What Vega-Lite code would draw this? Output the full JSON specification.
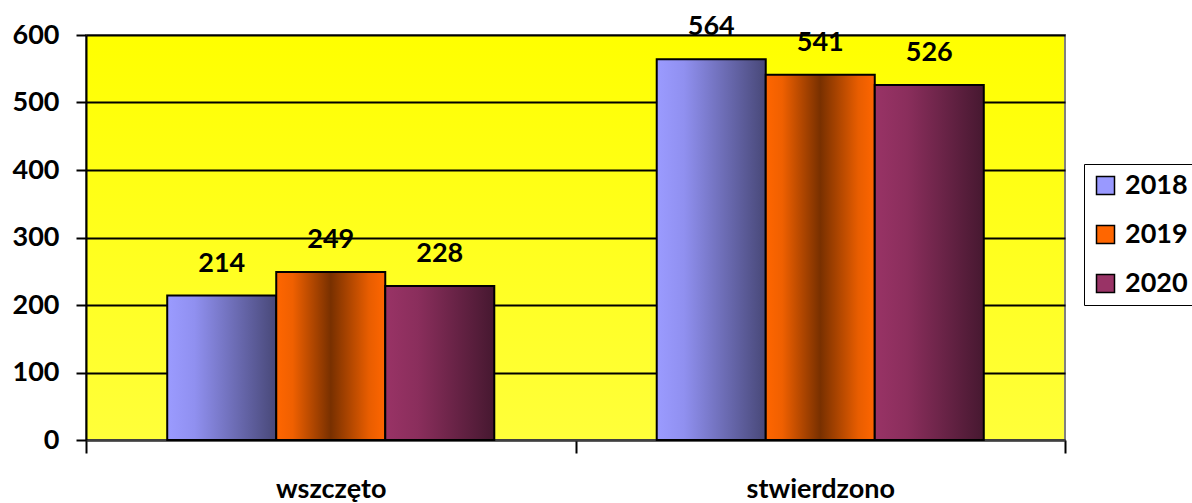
{
  "$schema": "https://vega.github.io/schema/vega-lite/v6.json",
  "width": 979,
  "height": 405,
  "autosize": {"type": "none"},
  "padding": {"left": 86, "top": 35, "right": 127, "bottom": 63},
  "background": "white",
  "config": {
    "font": "Lato",
    "view": {"stroke": "#808080", "strokeWidth": 2, "fill": {"gradient": "linear", "x1": 0, "y1": 0, "x2": 0, "y2": 1, "stops": [{"offset": 0, "color": "#FFFF00"}, {"offset": 1, "color": "#FFFF3A"}]}}
  },
  "data": {
    "values": [
      {"cat": "wszczęto", "year": "2018", "value": 214},
      {"cat": "wszczęto", "year": "2019", "value": 249},
      {"cat": "wszczęto", "year": "2020", "value": 228},
      {"cat": "stwierdzono", "year": "2018", "value": 564},
      {"cat": "stwierdzono", "year": "2019", "value": 541},
      {"cat": "stwierdzono", "year": "2020", "value": 526}
    ]
  },
  "encoding": {
    "x": {
      "field": "cat", "type": "nominal", "sort": ["wszczęto", "stwierdzono"], "title": null,
      "scale": {"paddingInner": 0, "paddingOuter": 0},
      "axis": {"labelAngle": 0, "tickBand": "extent", "tickSize": 13, "tickWidth": 2, "tickColor": "#000000", "domainColor": "#404040", "domainWidth": 2, "labelFont": "Lato", "labelFontSize": 27, "labelFontWeight": "bold", "labelColor": "#000000", "labelBaseline": "alphabetic", "labelPadding": 44, "grid": false}
    },
    "xOffset": {"field": "year", "type": "nominal", "sort": ["2018", "2019", "2020"], "scale": {"paddingOuter": 0.745, "paddingInner": 0}},
    "y": {
      "field": "value", "type": "quantitative", "title": null,
      "scale": {"domain": [0, 600], "nice": false},
      "axis": {"values": [0, 100, 200, 300, 400, 500, 600], "tickSize": 10, "tickWidth": 2, "tickColor": "#000000", "domainColor": "#000000", "domainWidth": 2, "gridColor": "#000000", "gridWidth": 2, "grid": true, "labelFont": "Lato", "labelFontSize": 27, "labelFontWeight": "bold", "labelColor": "#000000", "labelPadding": 17}
    }
  },
  "layer": [
    {
      "mark": {"type": "bar", "stroke": "#000000", "strokeWidth": 2},
      "encoding": {
        "fill": {
          "field": "year", "type": "nominal", "sort": ["2018", "2019", "2020"],
          "scale": {"range": ["#9999FF", "#FF6600", "#993366"]},
          "condition": [
            {"test": "datum.year === '2018'", "value": {"gradient": "linear", "x1": 0, "y1": 0, "x2": 1, "y2": 0, "stops": [{"offset": 0, "color": "#9B9BFF"}, {"offset": 0.25, "color": "#9090F0"}, {"offset": 1, "color": "#484878"}]}},
            {"test": "datum.year === '2019'", "value": {"gradient": "linear", "x1": 0, "y1": 0, "x2": 1, "y2": 0, "stops": [{"offset": 0, "color": "#FF6600"}, {"offset": 0.15, "color": "#F06000"}, {"offset": 0.5, "color": "#783000"}, {"offset": 0.85, "color": "#E85D00"}, {"offset": 1, "color": "#FF6600"}]}},
            {"test": "datum.year === '2020'", "value": {"gradient": "linear", "x1": 0, "y1": 0, "x2": 1, "y2": 0, "stops": [{"offset": 0, "color": "#993366"}, {"offset": 0.3, "color": "#8A2E5C"}, {"offset": 1, "color": "#461830"}]}}
          ],
          "legend": {
            "title": null, "orient": "none", "legendX": 998, "legendY": 129,
            "strokeColor": "#000000", "fillColor": "#FFFFFF",
            "symbolType": "square", "symbolSize": 324, "labelFont": "Lato", "labelFontSize": 27, "labelFontWeight": "bold", "labelColor": "#000000",
            "rowPadding": 21, "padding": 8, "labelOffset": 6,
            "encode": {
              "legend": {"update": {"stroke": {"value": "#000000"}, "strokeWidth": {"value": 2}}},
              "symbols": {"update": {
                "stroke": {"value": "#000000"}, "strokeWidth": {"value": 2},
                "fill": [
                  {"test": "datum.value === '2018'", "value": {"gradient": "linear", "x1": 0, "y1": 0, "x2": 1, "y2": 0, "stops": [{"offset": 0, "color": "#9B9BFF"}, {"offset": 1, "color": "#484878"}]}},
                  {"test": "datum.value === '2019'", "value": {"gradient": "linear", "x1": 0, "y1": 0, "x2": 1, "y2": 0, "stops": [{"offset": 0, "color": "#FF6600"}, {"offset": 0.5, "color": "#783000"}, {"offset": 1, "color": "#FF6600"}]}},
                  {"value": {"gradient": "linear", "x1": 0, "y1": 0, "x2": 1, "y2": 0, "stops": [{"offset": 0, "color": "#993366"}, {"offset": 1, "color": "#461830"}]}}
                ]
              }}
            }
          }
        }
      }
    },
    {
      "mark": {"type": "text", "baseline": "alphabetic", "dy": -24, "font": "Lato", "fontSize": 27, "fontWeight": "bold", "color": "#000000"},
      "encoding": {"text": {"field": "value", "type": "quantitative"}}
    }
  ]
}
